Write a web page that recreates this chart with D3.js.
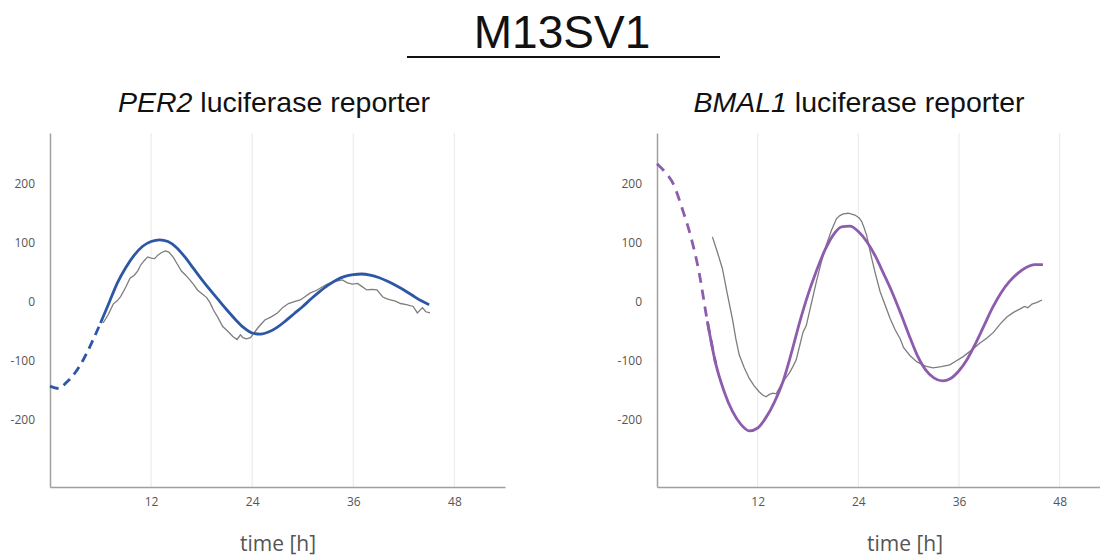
<!DOCTYPE html>
<html>
<head>
<meta charset="utf-8">
<script src="https://cdn.jsdelivr.net/npm/d3@7"></script>
<style>
  body { margin: 0; background: #fff; }
  .tick text { font-family: "Open Sans", sans-serif; font-size: 12px; fill: #555; }
  .xlab { font-family: "Open Sans", sans-serif; font-size: 21px; fill: #555; }
  .sub { font-family: "Liberation Sans", Arial, sans-serif; font-size: 28.5px; fill: #111; }
</style>
</head>
<body>
<svg id="chart" width="1100" height="556"></svg>
<script>
// hours for the fitted curves (one value per hour)
const perFitHours = [0,1,2,3,4,5,6,7,8,9,10,11,12,13,14,15,16,17,18,19,20,21,22,23,24,25,26,27,28,29,30,31,32,33,34,35,36,37,38,39,40,41,42,43,44,45]
const perFit = [-143,-147,-136,-120,-97,-68,-36,-2,32,58,79,94,102,105,102,92,76,57,38,20,3,-14,-30,-44,-53,-55,-51,-43,-32,-20,-8,5,17,28,37,43,46,47,45,41,35,28,20,11,2,-5]
const perFitDashEnd = 6

// raw PER2 trace: [hour, value]
const perRaw = [[6.3,-36],[6.9,-22],[7.5,-4],[8.0,2],[8.4,9],[9.0,25],[9.5,40],[10.0,45],[10.4,52],[10.8,63],[11.2,70],[11.6,76],[12.0,74],[12.4,73],[12.8,79],[13.2,83],[13.7,86],[14.1,84],[14.6,76],[15.1,64],[15.6,52],[16.1,45],[16.6,37],[17.1,28],[17.5,20],[18.0,14],[18.6,7],[19.0,-2],[19.4,-14],[19.9,-26],[20.5,-42],[21.1,-50],[21.7,-59],[22.2,-64],[22.6,-56],[22.9,-61],[23.3,-63],[23.8,-61],[24.2,-53],[24.8,-42],[25.5,-31],[26.2,-26],[27.0,-19],[27.6,-10],[28.3,-3],[29.0,0],[29.7,3],[30.3,9],[30.9,15],[31.6,19],[32.3,25],[32.8,29],[33.3,32],[34.0,35],[34.7,37],[35.3,32],[35.9,30],[36.5,31],[37.0,26],[37.6,20],[38.2,21],[38.8,20],[39.5,8],[40.0,5],[40.4,3],[41.0,1],[41.6,-3],[42.3,-5],[43.1,-8],[43.6,-19],[44.2,-10],[44.6,-17],[45.1,-19]]

const bmalFitHours = [0,1,2,3,4,5,6,7,8,9,10,11,12,13,14,15,16,17,18,19,20,21,22,23,24,25,26,27,28,29,30,31,32,33,34,35,36,37,38,39,40,41,42,43,44,45,46]
const bmalFit = [234,219,198,158,112,51,-33,-105,-152,-186,-208,-219,-214,-196,-170,-136,-88,-35,12,52,87,113,127,128,119,102,78,48,17,-18,-55,-90,-115,-129,-134,-130,-117,-97,-70,-40,-10,15,34,48,58,63,63]
const bmalFitDashEnd = 6.8

const bmalRaw = [[6.6,110],[7.2,84],[7.8,56],[8.4,12],[9.0,-30],[9.4,-63],[9.8,-90],[10.4,-112],[11.0,-130],[11.6,-143],[12.2,-153],[12.6,-158],[13.0,-161],[13.4,-157],[13.8,-155],[14.2,-156],[14.6,-146],[15.0,-136],[15.4,-128],[15.8,-120],[16.2,-110],[16.6,-98],[17.0,-75],[17.4,-52],[17.8,-40],[18.4,-3],[19.0,34],[19.6,68],[20.2,97],[20.8,121],[21.4,141],[21.8,146],[22.2,149],[22.8,150],[23.6,147],[24.1,142],[24.4,136],[24.7,125],[25.0,112],[25.3,92],[25.6,73],[26.1,44],[26.6,17],[27.2,-6],[27.8,-29],[28.4,-48],[29.0,-63],[29.4,-78],[30.2,-92],[31.0,-102],[32.0,-109],[32.9,-112],[33.9,-110],[34.9,-107],[35.7,-100],[36.5,-93],[37.5,-82],[38.5,-70],[39.3,-62],[40.1,-52],[40.9,-38],[41.7,-26],[42.5,-18],[43.3,-12],[43.8,-8],[44.2,-10],[44.7,-4],[45.3,-1],[45.9,3]]

const xTicks = [12, 24, 36, 48]
const yTicks = [-200, -100, 0, 100, 200]

const svg = d3.select("#chart")

// header
svg.append("text")
  .attr("x", 562).attr("y", 48)
  .attr("text-anchor", "middle")
  .style("font-family", "'Liberation Sans', Arial, sans-serif")
  .style("font-size", "46px").style("fill", "#111")
  .text("M13SV1")
svg.append("line")
  .attr("x1", 407).attr("x2", 720).attr("y1", 57).attr("y2", 57)
  .attr("stroke", "#111").attr("stroke-width", 2)

const drawPanel = (opts) => {
  const { left, right, gene, fitHours, fit, dashEnd, raw, color, dash, labelX, subX } = opts
  const top = 133, bottom = 487

  const x = d3.scaleLinear().domain([0, opts.xMax]).range([left, right])
  const y = d3.scaleLinear().domain([-314, 286]).range([bottom, top])

  const g = svg.append("g")

  // vertical grid
  g.selectAll(".grid")
    .data(xTicks)
    .enter()
    .append("line")
    .attr("x1", d => x(d)).attr("x2", d => x(d))
    .attr("y1", top).attr("y2", bottom)
    .attr("stroke", "#ececec").attr("stroke-width", 1.2)

  const yAxis = g.append("g")
    .attr("transform", `translate(${left}, 0)`)
    .call(d3.axisLeft(y).tickValues(yTicks).tickSize(0).tickPadding(15).tickFormat(d => String(d)))
  yAxis.select(".domain").attr("stroke", "#a0a0a0").attr("stroke-width", 1.5)

  const xAxis = g.append("g")
    .attr("transform", `translate(0, ${bottom})`)
    .call(d3.axisBottom(x).tickValues(xTicks).tickSize(0).tickPadding(10))
  xAxis.select(".domain").attr("stroke", "#a0a0a0").attr("stroke-width", 1.5)

  // subtitle with italic gene name
  const sub = svg.append("text")
    .attr("class", "sub")
    .attr("x", subX).attr("y", 112)
    .attr("text-anchor", "middle")
  sub.append("tspan").style("font-style", "italic").text(gene)
  sub.append("tspan").text(" luciferase reporter")

  svg.append("text")
    .attr("class", "xlab")
    .attr("x", labelX).attr("y", 551)
    .attr("text-anchor", "middle")
    .text("time [h]")

  const fitPts = fitHours.map((h, i) => [h, fit[i]])
  const line = d3.line()
    .x(d => x(d[0]))
    .y(d => y(d[1]))
    .curve(d3.curveMonotoneX)

  const rawLine = d3.line()
    .x(d => x(d[0]))
    .y(d => y(d[1]))

  g.append("path")
    .datum(raw)
    .attr("fill", "none")
    .attr("stroke", "#7d7d7d")
    .attr("stroke-width", 1.3)
    .attr("d", rawLine)

  g.append("path")
    .datum(fitPts.filter(d => d[0] <= Math.ceil(dashEnd)))
    .attr("fill", "none")
    .attr("stroke", color)
    .attr("stroke-width", 2.8)
    .attr("stroke-dasharray", dash)
    .attr("d", line)

  g.append("path")
    .datum(fitPts.filter(d => d[0] >= Math.floor(dashEnd)))
    .attr("fill", "none")
    .attr("stroke", color)
    .attr("stroke-width", 2.8)
    .attr("d", line)
}

drawPanel({
  left: 50, right: 505, xMax: 54, gene: "PER2",
  fitHours: perFitHours, fit: perFit, dashEnd: perFitDashEnd,
  raw: perRaw, color: "#2c56a6", dash: "9,6", labelX: 278, subX: 274
})

drawPanel({
  left: 657, right: 1110, xMax: 54, gene: "BMAL1",
  fitHours: bmalFitHours, fit: bmalFit, dashEnd: bmalFitDashEnd,
  raw: bmalRaw, color: "#8d5cad", dash: "10,7", labelX: 905, subX: 859
})
</script>
</body>
</html>
